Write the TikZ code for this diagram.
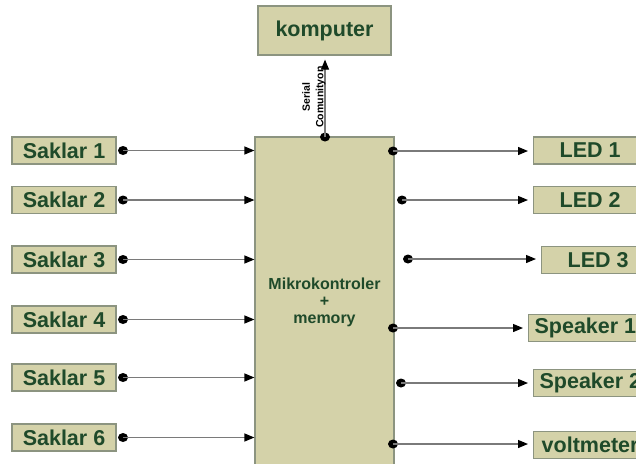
\documentclass[tikz,border=0pt]{standalone}
\usepackage{fontspec}
\setmainfont{Liberation Sans}
\usetikzlibrary{arrows.meta}
\definecolor{boxfill}{HTML}{D4D2A9}
\definecolor{boxline}{HTML}{8C9480}
\definecolor{boxtext}{HTML}{1F4A2A}
\definecolor{wire}{HTML}{7A7A7A}
\tikzset{
  blk/.style={draw=boxline, line width=1.2pt, fill=boxfill, text=boxtext,
    font=\fontsize{21.5}{24}\selectfont\bfseries, inner sep=0pt,
    minimum height=27pt},
  inbox/.style={blk, minimum width=104pt},
  outbox/.style={blk, anchor=west, minimum width=113pt, inner xsep=6pt},
  conn/.style={draw=wire, line width=1.2pt, -{Triangle[length=10pt,width=8pt,fill=black,color=black]}},
  dotc/.style={fill=black},
}
\begin{document}
\begin{tikzpicture}[x=1pt,y=-1pt]
\useasboundingbox (0,0) rectangle (636,463);
\clip (0,0) rectangle (636,463);
% main box
\node[blk, minimum width=139pt, minimum height=330pt, align=center,
  font=\fontsize{16}{17}\selectfont\bfseries] (m) at (324.5,302)
  {Mikrokontroler\\+\\memory};
% komputer
\node[blk, minimum width=133pt, minimum height=49pt] (k) at (324.5,30.5) {komputer};
% inputs
\foreach \i/\y in {1/150.5,2/200,3/259.5,4/319.5,5/377.5,6/437.5}{
  \node[inbox] (s\i) at (64,\y) {Saklar \i};
  \coordinate (a\i) at (123,\y);
  \fill[dotc] (a\i) ellipse (5pt and 4.5pt);
  \draw[conn] (a\i) -- (m.west |- a\i);
}
% outputs
\node[outbox] (o1) at (533,150.5) {LED 1};
\node[outbox] (o2) at (533,200) {LED 2};
\node[outbox] (o3) at (541,260) {LED 3};
\node[outbox] (o4) at (528,328) {Speaker 1};
\node[outbox] (o5) at (533,383) {Speaker 2};
\node[outbox] (o6) at (533,445) {voltmeter};
\coordinate (b1) at (393,151);
\coordinate (b2) at (402,200);
\coordinate (b3) at (408,259);
\coordinate (b4) at (393,328);
\coordinate (b5) at (401,383);
\coordinate (b6) at (393,444);
\foreach \i in {1,...,6}{
  \fill[dotc] (b\i) ellipse (5pt and 4.5pt);
  \draw[conn, shorten >=5pt] (b\i) -- (o\i.west |- b\i);
}
% serial link
\coordinate (c) at (325,137);
\fill[dotc] (c) ellipse (5pt and 4.5pt);
\draw[conn, shorten >=4pt] (c) -- (k.south -| c);
\node[rotate=90, align=center, font=\fontsize{10.5}{13.5}\selectfont\bfseries, inner sep=0pt] (lbl) at (314,97) {Serial\\Comunityon};
\end{tikzpicture}
\end{document}
